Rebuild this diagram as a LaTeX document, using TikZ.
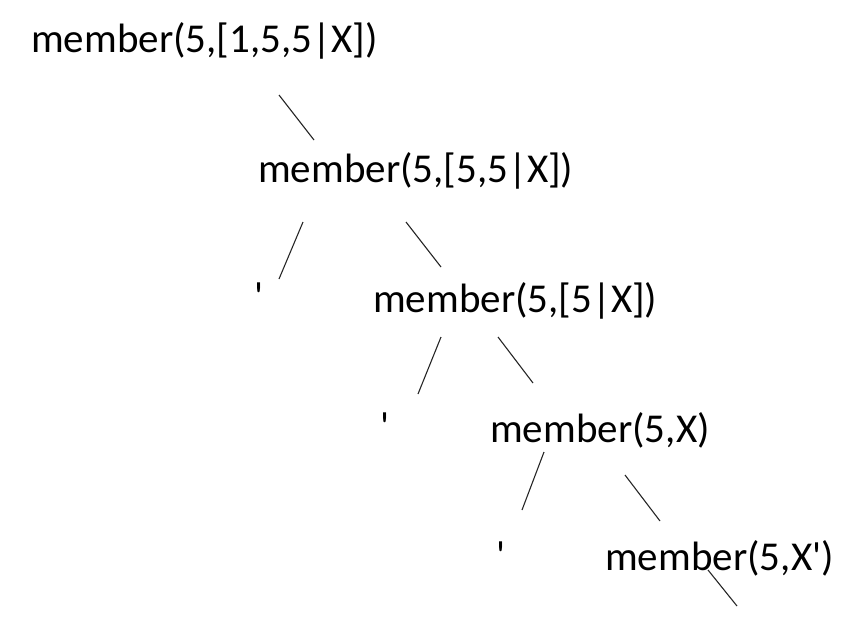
\documentclass[tikz,border=0pt]{standalone}
\usepackage{fontspec}
\setmainfont{Carlito}
\usepackage{tikz}
\usetikzlibrary{positioning}
\newcommand{\termfont}{\fontsize{41}{49}\selectfont}

\begin{document}
\begin{tikzpicture}[x=1pt,y=-1pt,
        term/.style={anchor=base west,inner sep=0pt,font=\termfont},
        branch/.style={line width=1.1pt,black!85}]
        \useasboundingbox (0,0) rectangle (856,622);
        % terms of the tree
        \node[term] (m1) at (31,52) {member(5,[1,5,5|X])};
        \node[term] (m2) at (258,182) {member(5,[5,5|X])};
        \node[term] (q1) at (254,310) {\textquotesingle};
        \node[term] (m3) at (373,312) {member(5,[5|X])};
        \node[term] (q2) at (380,440) {\textquotesingle};
        \node[term] (m4) at (490,442) {member(5,X)};
        \node[term] (q3) at (496,569) {\textquotesingle};
        \node[term] (m5) at (605,570) {member(5,X\textquotesingle)};
        % branch ends
        \coordinate (a1) at (279,95);   \coordinate (b1) at (314,140);
        \coordinate (a2) at (303,222);  \coordinate (b2) at (279,279);
        \coordinate (a3) at (406,222);  \coordinate (b3) at (441,267);
        \coordinate (a4) at (441,337);  \coordinate (b4) at (418,394);
        \coordinate (a5) at (498,337);  \coordinate (b5) at (533,383);
        \coordinate (a6) at (544,452);  \coordinate (b6) at (522,510);
        \coordinate (a7) at (625,475);  \coordinate (b7) at (660,521);
        \coordinate (a8) at (708,570);  \coordinate (b8) at (737,606);
        \foreach \n in {1,...,8} {
            \draw[branch] (a\n) -- (b\n);
        }
\end{tikzpicture}
\end{document}
